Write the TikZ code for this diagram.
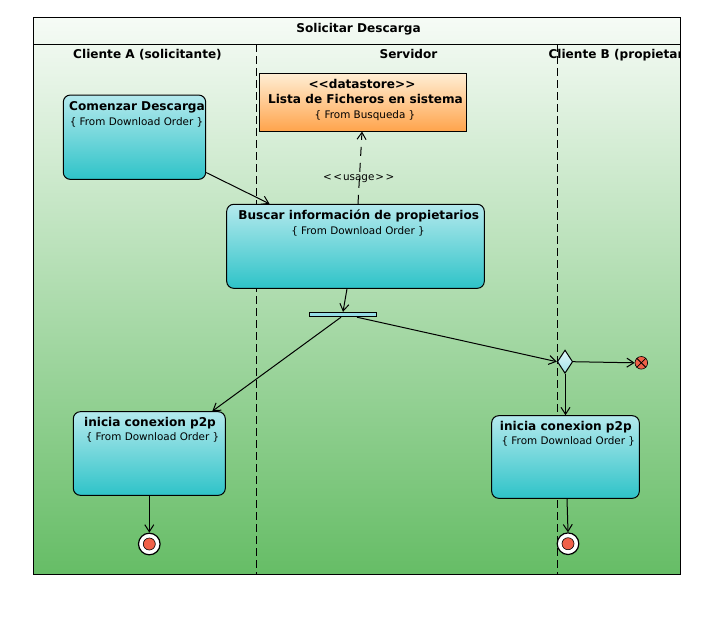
\documentclass[tikz,border=0pt]{standalone}
\usepackage{fontspec}
\setmainfont{DejaVu Sans}[Ligatures=TeXOff]
\usetikzlibrary{arrows.meta,shapes.geometric}
\definecolor{bgtop}{RGB}{246,251,246}
\definecolor{bgbot}{RGB}{102,189,102}
\definecolor{cytop}{RGB}{180,233,237}
\definecolor{cybot}{RGB}{46,195,200}
\definecolor{ortop}{RGB}{255,238,212}
\definecolor{orbot}{RGB}{255,164,76}
\definecolor{redfill}{RGB}{240,96,72}
\definecolor{forkfill}{RGB}{150,222,230}
\definecolor{dmtop}{RGB}{226,247,250}
\definecolor{dmbot}{RGB}{160,226,232}
\begin{document}
\begin{tikzpicture}[x=1pt,y=-1pt,line width=1pt,
  act/.style={draw,rounded corners=7pt,top color=cytop,bottom color=cybot,inner sep=0pt},
  store/.style={draw,top color=ortop,bottom color=orbot,inner sep=0pt},
  ttl/.style={anchor=base,inner sep=0pt,font=\fontsize{12.1}{14}\selectfont\bfseries},
  sub/.style={anchor=base,inner sep=0pt,font=\fontsize{10.4}{12}\selectfont},
  lane/.style={dash pattern=on 8pt off 4pt},
  flow/.style={-{Straight Barb[length=7pt,width=9pt]}},
  usageline/.style={dash pattern=on 9pt off 7pt,-{Straight Barb[length=7pt,width=9pt]}}]
\useasboundingbox (0,0) rectangle (727,630);
% frame with gradient
\shade[top color=bgtop,bottom color=bgbot] (33,17) rectangle (680,574);
\coordinate (tl) at (33,44);
\coordinate (tr) at (680,44);
\draw (tl) -- (tr);
\coordinate (l1t) at (256,44);
\coordinate (l1b) at (256,574);
\coordinate (l2t) at (557,44);
\coordinate (l2b) at (557,574);
\draw[lane] (l1t) -- (l1b);
\draw[lane] (l2t) -- (l2b);
\draw (33,17) rectangle (680,574);
% titles
\node[ttl] (title) at (358.5,32) {Solicitar Descarga};
\node[ttl] (laneA) at (147.5,58) {Cliente A (solicitante)};
\node[ttl] (laneS) at (408.5,58) {Servidor};
\begin{scope}
\clip (33,17) rectangle (680,574);
\node[ttl,anchor=base west] (laneB) at (548,58) {Cliente B (propietario)};
\end{scope}
% nodes
\node[act,minimum width=142.4pt,minimum height=84.3pt] (com) at (134.5,137.2) {};
\node[ttl] (comT) at (137,110) {Comenzar Descarga};
\node[sub] (comS) at (136.5,125.5) {\{ From Download Order \}};

\node[store,minimum width=207.4pt,minimum height=57.7pt] (ds) at (363,102.2) {};
\node[ttl] (dsA) at (362,88) {<<datastore>>};
\node[ttl] (dsT) at (365.5,103) {Lista de Ficheros en sistema};
\node[sub] (dsS) at (365,118) {\{ From Busqueda \}};

\node[act,minimum width=257.6pt,minimum height=84pt] (bus) at (355.5,246.3) {};
\node[ttl] (busT) at (358.7,219) {Buscar información de propietarios};
\node[sub] (busS) at (358,234) {\{ From Download Order \}};

\node[draw,fill=forkfill,minimum width=67.4pt,minimum height=4.4pt,inner sep=0pt] (fork) at (343,314.5) {};

\node[draw,diamond,top color=dmtop,bottom color=dmbot,minimum width=15.4pt,minimum height=23.3pt,inner sep=0pt] (dec) at (565,361.7) {};

\node[draw,circle,fill=redfill,minimum size=12.6pt,inner sep=0pt,line width=0.6pt] (ff) at (641.3,362.8) {};
\draw[line width=0.8pt] (ff.45) -- (ff.225);
\draw[line width=0.8pt] (ff.135) -- (ff.-45);

\node[act,minimum width=152pt,minimum height=83.6pt] (ini1) at (149.3,453.5) {};
\node[ttl] (ini1T) at (150,426.5) {inicia conexion p2p};
\node[sub] (ini1S) at (152.5,440.5) {\{ From Download Order \}};

\node[act,minimum width=147.6pt,minimum height=82.6pt] (ini2) at (565.5,457) {};
\node[ttl] (ini2T) at (565.8,430.5) {inicia conexion p2p};
\node[sub] (ini2S) at (568.3,444.5) {\{ From Download Order \}};

\node[draw,circle,fill=white,minimum size=21.6pt,inner sep=0pt,line width=1.2pt] (fin1) at (149.3,544) {};
\node[draw,circle,fill=redfill,minimum size=12pt,inner sep=0pt,line width=0.6pt] (fin1c) at (149.3,544) {};
\node[draw,circle,fill=white,minimum size=21.6pt,inner sep=0pt,line width=1.2pt] (fin2) at (568,543.7) {};
\node[draw,circle,fill=redfill,minimum size=12pt,inner sep=0pt,line width=0.6pt] (fin2c) at (568,543.7) {};

% connectors
\draw[flow] (com) -- (bus);
\draw[usageline] ([xshift=2.5pt]bus.north) -- ([xshift=-1pt]ds.south);
\node[sub] (usage) at (358.7,180) {<\kern1.5pt<\kern1pt usage\kern1pt>\kern1.5pt>};
\draw[flow] ([xshift=-8.5pt]bus.south) -- (fork.north);
\draw[flow] ([xshift=-2pt]fork.south) -- ([xshift=63pt]ini1.north);
\draw[flow] ([xshift=14pt]fork.south) -- (dec.west);
\draw[flow] (dec.east) -- (ff.west);
\draw[flow] ([xshift=0.5pt]dec.south) -- (ini2.north);
\draw[flow] (ini1.south) -- (fin1.north);
\draw[flow] ([xshift=1.5pt]ini2.south) -- (fin2.north);
\end{tikzpicture}
\end{document}
